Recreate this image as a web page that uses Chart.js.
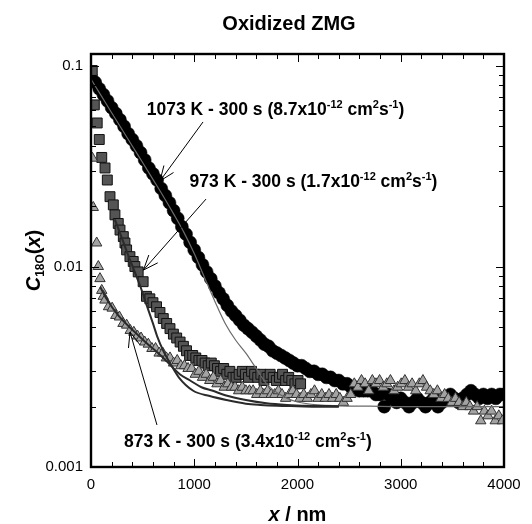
<!DOCTYPE html>
<html><head><meta charset="utf-8">
<script src="https://cdn.jsdelivr.net/npm/chart.js@4.4.1/dist/chart.umd.min.js"></script>
<style>html,body{margin:0;padding:0;background:#fff;}canvas{display:block;}</style>
</head><body>
<canvas id="c" width="532" height="524" style="width:532px;height:524px"></canvas>
<script>
// ---------- data ----------
const circleX = [0,40,80,120,160,200,240,280,320,360,400,440,480,520,560,600,640,680,720,760,800,840,880,920,960,1000,1040,1080,1120,1160,1200,1240,1280,1320,1360,1400,1440,1480,1520,1560,1600,1640,1680,1720,1760,1800,1840,1880,1920,1960,2000,2040,2080,2120,2160,2200,2240,2280,2320,2360,2400,2440,2480,2520,2560,2600,2640,2680,2720,2760,2800,2840,2880,2920,2960,3000,3040,3080,3120,3160,3200,3240,3280,3320,3360,3400,3440,3480,3520,3560,3600,3640,3680,3720,3760,3800,3840,3880,3920,3960,4000];
const circleY = [0.088,0.083,0.077,0.072,0.067,0.062,0.058,0.054,0.050,0.046,0.043,0.040,0.037,0.034,0.031,0.029,0.027,0.0245,0.0226,0.0208,0.0190,0.0174,0.0158,0.0145,0.0132,0.0121,0.0111,0.0102,0.0094,0.0087,0.0080,0.0074,0.0069,0.0064,0.0060,0.0057,0.0054,0.0051,0.0049,0.0047,0.0045,0.0043,0.0041,0.0040,0.0038,0.0037,0.0036,0.0035,0.0034,0.0033,0.0032,0.0032,0.0031,0.0030,0.0030,0.0029,0.0029,0.0028,0.0028,0.0027,0.0027,0.0026,0.0026,0.0025,0.0025,0.0024,0.0024,0.0024,0.0024,0.0023,0.0023,0.0020,0.0023,0.0022,0.0021,0.0022,0.0021,0.0020,0.0021,0.0022,0.0021,0.0020,0.0021,0.0022,0.0020,0.0021,0.0022,0.0023,0.0022,0.0021,0.0022,0.0023,0.0024,0.0023,0.0022,0.0023,0.0022,0.0023,0.0022,0.0023,0.0023];

const squareX = [12,32,60,80,104,136,158,184,216,232,264,281,313,329,345,377,409,425,457,505,537,570,600,635,668,700,733,765,798,830,863,895,925,955,985,1015,1045,1075,1105,1135,1165,1195,1225,1255,1285,1315,1345,1375,1405,1435,1465,1495,1525,1555,1585,1615,1645,1675,1705,1735,1765,1795,1825,1855,1885,1915,1945,1975,2005,2030];
const squareY = [0.095,0.064,0.052,0.043,0.035,0.031,0.027,0.0223,0.0203,0.0181,0.0164,0.0152,0.0141,0.0131,0.0121,0.0112,0.0106,0.0100,0.0094,0.0084,0.0071,0.0069,0.0066,0.0063,0.0059,0.0055,0.0052,0.0049,0.0046,0.0044,0.0042,0.0040,0.0038,0.0036,0.0036,0.0035,0.0034,0.0034,0.0033,0.0032,0.0033,0.0032,0.0031,0.0030,0.0031,0.0029,0.0030,0.0028,0.0028,0.0029,0.0030,0.0029,0.0028,0.0030,0.0029,0.0028,0.0029,0.0027,0.0028,0.0029,0.0028,0.0027,0.0028,0.0029,0.0027,0.0028,0.0027,0.0026,0.0027,0.0026];

const triangleX = [13,22,55,71,87,104,119,135,170,205,240,275,310,345,380,415,450,485,520,555,590,625,660,695,730,765,800,835,870,905,940,975,1010,1045,1080,1115,1150,1185,1220,1255,1290,1325,1360,1395,1430,1465,1500,1535,1570,1605,1640,1675,1710,1745,1780,1815,1850,1885,1920,1955,1990,2025,2060,2095,2130,2165,2200,2235,2270,2305,2340,2375,2410,2445,2480,2515,2550,2585,2620,2655,2690,2725,2760,2795,2830,2865,2900,2935,2970,3005,3040,3075,3110,3145,3180,3215,3250,3285,3320,3355,3390,3425,3460,3495,3530,3565,3600,3635,3670,3705,3740,3775,3810,3845,3880,3915,3950,3985];
const triangleY = [0.0347,0.0197,0.0131,0.0100,0.0087,0.0076,0.0071,0.0068,0.0063,0.0062,0.0057,0.0056,0.0052,0.0051,0.0048,0.0047,0.0045,0.0044,0.0042,0.0041,0.0039,0.0039,0.0037,0.0037,0.0035,0.0035,0.0033,0.0034,0.0032,0.0032,0.0031,0.0031,0.0029,0.0030,0.0028,0.0029,0.0027,0.0028,0.0026,0.0027,0.0025,0.0026,0.0025,0.0025,0.0024,0.0025,0.0024,0.0024,0.0024,0.0023,0.0024,0.0023,0.0024,0.0023,0.0023,0.0024,0.0023,0.0022,0.0023,0.0024,0.0023,0.0022,0.0023,0.0022,0.0023,0.0024,0.0022,0.0023,0.0022,0.0023,0.0022,0.0023,0.0022,0.0021,0.0022,0.0023,0.0026,0.0025,0.0027,0.0026,0.0024,0.0027,0.0026,0.0027,0.0025,0.0026,0.0027,0.0024,0.0025,0.0026,0.0027,0.0025,0.0026,0.0024,0.0026,0.0027,0.0025,0.0024,0.0023,0.0024,0.0022,0.0023,0.0022,0.0021,0.0022,0.0021,0.0020,0.0021,0.0020,0.0019,0.0020,0.0017,0.0019,0.0018,0.0019,0.0017,0.0018,0.0017];

const fit1073X = [0,100,200,300,400,500,600,700,800,900,1000,1100,1200,1300,1400,1500,1600,1700,1800,1900,2000,2200,2400,2700,3000,3500,4000];
const fit1073Y = [0.086,0.071,0.0585,0.0483,0.0399,0.033,0.0272,0.0224,0.0183,0.0148,0.0116,0.0088,0.0067,0.0052,0.0043,0.0037,0.0031,0.0026,0.00235,0.0022,0.00211,0.00204,0.00202,0.00201,0.002,0.002,0.002];

const fit973X = [230,300,360,420,480,540,600,640,700,765,850,990,1150,1310,1500,1640,1800,2000,2200,2400];
const fit973Y = [0.0172,0.0138,0.0114,0.0095,0.0079,0.0064,0.0052,0.0045,0.0038,0.0033,0.0028,0.0024,0.00226,0.00216,0.00207,0.00204,0.00202,0.00201,0.002,0.002];

const fit873X = [90,150,264,426,550,650,750,860,960,1070,1180,1300,1500,1700,1900,2100,2400];
const fit873Y = [0.0079,0.0069,0.0057,0.0047,0.0041,0.0037,0.0033,0.0029,0.0027,0.0025,0.0024,0.00228,0.00216,0.00208,0.00204,0.00202,0.00201];

const xTickValues = [0,1000,2000,3000,4000];
const xTickLabels = ['0','1000','2000','3000','4000'];
const yTickValues = [0.001,0.01,0.1];
const yTickLabels = ['0.001','0.01','0.1'];

const FONT = '"Liberation Sans", Arial, Helvetica, sans-serif';

function pts(xs, ys){ return xs.map((x,i)=>({x:x, y:ys[i]})); }

// annotations: arrow from (x0,y0) to tip (x1,y1) and label anchored in data coordinates
const annotations = [
  {label:[['1073 K - 300 s (8.7x10'],['-12','sup'],[' cm'],['2','sup'],['s'],['-1','sup'],[')']], lx:540, ly:0.0572, x0:1085, y0:0.0526, x1:668, y1:0.0267},
  {label:[['973 K - 300 s (1.7x10'],['-12','sup'],[' cm'],['2','sup'],['s'],['-1','sup'],[')']], lx:955, ly:0.0248, x0:1114, y0:0.0217, x1:508, y1:0.0096},
  {label:[['873 K - 300 s (3.4x10'],['-12','sup'],[' cm'],['2','sup'],['s'],['-1','sup'],[')']], lx:320, ly:0.00126, x0:639, y0:0.00162, x1:378, y1:0.00471}
];

function drawRich(ctx, segs, x, y, size, align){
  const fontFor = (s)=>{
    let fs = size, st = (s[2]==='i' ? 'italic ' : '') + 'bold ';
    if (s[1]==='sup' || s[1]==='sub') fs = Math.round(size*0.62);
    return st + fs + 'px ' + FONT;
  };
  let total = 0;
  for (const s of segs){ ctx.font = fontFor(s); total += ctx.measureText(s[0]).width; }
  let cx = align==='center' ? x - total/2 : x;
  ctx.textBaseline = 'alphabetic'; ctx.textAlign = 'left';
  for (const s of segs){
    ctx.font = fontFor(s);
    let dy = 0;
    if (s[1]==='sup') dy = -size*0.40;
    if (s[1]==='sub') dy = size*0.22;
    ctx.fillText(s[0], cx, y+dy);
    cx += ctx.measureText(s[0]).width;
  }
}

const framePlugin = {
  id:'frame',
  afterDatasetsDraw(chart){
    const ctx = chart.ctx, a = chart.chartArea, xs = chart.scales.x, ys = chart.scales.y;
    ctx.save();
    ctx.strokeStyle = '#000'; ctx.fillStyle = '#000';
    ctx.lineWidth = 1;
    ctx.beginPath();
    for (let v = 0; v <= 4000; v += 200){
      const px = Math.round(xs.getPixelForValue(v)) + 0.5;
      const L = (v % 1000 === 0) ? 8 : 5;
      ctx.moveTo(px, a.bottom); ctx.lineTo(px, a.bottom - L);
      ctx.moveTo(px, a.top); ctx.lineTo(px, a.top + L);
    }
    for (let d = 0.001; d < 0.2; d *= 10){
      for (let m = 1; m <= 9; m++){
        const v = d*m;
        if (v > ys.max * 1.0001) continue;
        const py = Math.round(ys.getPixelForValue(v)) + 0.5;
        const L = (m === 1) ? 8 : 5;
        ctx.moveTo(a.left, py); ctx.lineTo(a.left + L, py);
        ctx.moveTo(a.right, py); ctx.lineTo(a.right - L, py);
      }
    }
    ctx.stroke();
    ctx.lineWidth = 2.4;
    ctx.strokeRect(a.left, a.top, a.right - a.left, a.bottom - a.top);

    ctx.lineWidth = 1;
    for (const an of annotations){
      const x0 = xs.getPixelForValue(an.x0), y0 = ys.getPixelForValue(an.y0);
      const x1 = xs.getPixelForValue(an.x1), y1 = ys.getPixelForValue(an.y1);
      ctx.beginPath(); ctx.moveTo(x0,y0); ctx.lineTo(x1,y1); ctx.stroke();
      const ang = Math.atan2(y0-y1, x0-x1), h = 16, w = 0.38;
      ctx.beginPath();
      ctx.moveTo(x1 + h*Math.cos(ang+w), y1 + h*Math.sin(ang+w)); ctx.lineTo(x1,y1);
      ctx.lineTo(x1 + h*Math.cos(ang-w), y1 + h*Math.sin(ang-w));
      ctx.stroke();
      drawRich(ctx, an.label, xs.getPixelForValue(an.lx), ys.getPixelForValue(an.ly), 17.5, 'left');
    }

    drawRich(ctx, [['Oxidized ZMG']], 289, 30, 20, 'center');
    drawRich(ctx, [['x','', 'i'],[' / nm']], (a.left+a.right)/2, 521, 20, 'center');
    ctx.save();
    ctx.translate(40, (a.top+a.bottom)/2);
    ctx.rotate(-Math.PI/2);
    drawRich(ctx, [['C','','i'],['18O','sub'],['('],['x','','i'],[')']], 0, 0, 20, 'center');
    ctx.restore();
    ctx.restore();
  }
};

new Chart(document.getElementById('c').getContext('2d'), {
  type:'scatter',
  data:{ datasets:[
    {label:'1073 K - 300 s', data:pts(circleX,circleY), pointStyle:'circle', pointRadius:6.5, backgroundColor:'#000', borderColor:'#000', borderWidth:0.5, order:6},
    {label:'973 K - 300 s', data:pts(squareX,squareY), pointStyle:'rect', pointRadius:7, backgroundColor:'#545454', borderColor:'#111', borderWidth:1, order:5},
    {label:'873 K - 300 s', data:pts(triangleX,triangleY), pointStyle:'triangle', pointRadius:6, backgroundColor:'#a3a3a3', borderColor:'#333', borderWidth:1, order:4},
    {label:'fit 1073 K', data:pts(fit1073X,fit1073Y), showLine:true, pointRadius:0, borderColor:'#6a6a6a', borderWidth:1.2, cubicInterpolationMode:'monotone', order:3},
    {label:'fit 973 K', data:pts(fit973X,fit973Y), showLine:true, pointRadius:0, borderColor:'#2a2a2a', borderWidth:2, cubicInterpolationMode:'monotone', order:2},
    {label:'fit 873 K', data:pts(fit873X,fit873Y), showLine:true, pointRadius:0, borderColor:'#2a2a2a', borderWidth:2, cubicInterpolationMode:'monotone', order:1}
  ]},
  options:{
    responsive:false, animation:false, events:[],
    layout:{ padding:{ top:54, right:28, left:0, bottom:0 } },
    plugins:{ legend:{display:false}, tooltip:{enabled:false}, title:{display:false} },
    scales:{
      x:{ type:'linear', min:0, max:4000,
          afterBuildTicks(s){ s.ticks = xTickValues.map(v=>({value:v})); },
          ticks:{ callback:(v,i)=>xTickLabels[i], font:{family:FONT, size:15}, color:'#000', padding:9, maxRotation:0, autoSkip:false },
          grid:{ display:false, drawTicks:false }, border:{ display:false },
          afterFit(s){ s.height = 57; } },
      y:{ type:'logarithmic', min:0.001, max:0.1148,
          afterBuildTicks(s){ s.ticks = yTickValues.map(v=>({value:v, major:true})); },
          ticks:{ callback:(v,i)=>yTickLabels[i], font:{family:FONT, size:15}, color:'#000', padding:8, autoSkip:false },
          grid:{ display:false, drawTicks:false }, border:{ display:false },
          afterFit(s){ s.width = 91; } }
    }
  },
  plugins:[framePlugin]
});
</script>
</body></html>
